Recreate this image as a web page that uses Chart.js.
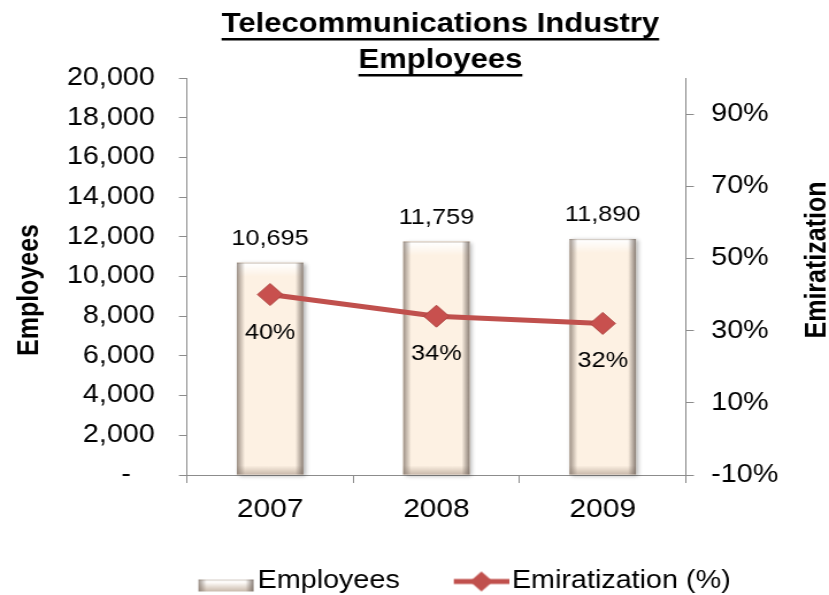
<!DOCTYPE html>
<html>
<head>
<meta charset="utf-8">
<title>Telecommunications Industry Employees</title>
<script src="https://cdn.jsdelivr.net/npm/chart.js"></script>
<style>
  html, body { margin: 0; padding: 0; background: #fff; overflow: hidden; }
  /* chart is drawn on a narrower canvas and stretched to the window width */
  #wrap { width: 721px; height: 595px; transform: scaleX(1.1498); transform-origin: 0 0; }
  #chart { display: block; }
</style>
</head>
<body>
<div id="wrap"><canvas id="chart" width="721" height="595"></canvas></div>
<script>
const years = ['2007', '2008', '2009'];
const employees = [10695, 11759, 11890];
const emiratization = [40, 34, 32];
const pctTicks = [-10, 10, 30, 50, 70, 90];
const titleLines = ['Telecommunications Industry', 'Employees'];

const FONT = "'Liberation Sans', Arial, sans-serif";
const AXIS = '#8c8c8c';
const RED = '#c0504d';
const CREAM = '#fdf1e3';

// shaded edges that give the bars their raised look
function bevelBar(ctx, l, t, r, b) {
  const w = r - l, h = b - t;
  let g = ctx.createLinearGradient(0, t, 0, t + 14);
  g.addColorStop(0, 'rgba(190,180,170,0.9)');
  g.addColorStop(0.12, 'rgba(255,255,255,0.95)');
  g.addColorStop(1, 'rgba(255,255,255,0)');
  ctx.fillStyle = g;
  ctx.fillRect(l, t, w, 14);

  g = ctx.createLinearGradient(0, b - 9, 0, b);
  g.addColorStop(0, 'rgba(150,130,115,0)');
  g.addColorStop(1, 'rgba(150,130,115,0.5)');
  ctx.fillStyle = g;
  ctx.fillRect(l, b - 9, w, 9);

  g = ctx.createLinearGradient(l, 0, l + 7, 0);
  g.addColorStop(0, 'rgba(125,112,102,0.75)');
  g.addColorStop(1, 'rgba(125,112,102,0)');
  ctx.fillStyle = g;
  ctx.fillRect(l, t, 7, h);

  g = ctx.createLinearGradient(r, 0, r - 7, 0);
  g.addColorStop(0, 'rgba(110,98,90,0.8)');
  g.addColorStop(1, 'rgba(110,98,90,0)');
  ctx.fillStyle = g;
  ctx.fillRect(r - 7, t, 7, h);
}

function makeIcon(draw) {
  const c = document.createElement('canvas');
  c.width = 95;
  c.height = 24;
  draw(c.getContext('2d'));
  return c;
}

// legend markers, drawn at the right end so they sit close to the text
const legendIcons = [
  makeIcon(ctx => {
    ctx.fillStyle = CREAM;
    ctx.fillRect(46, 10, 48, 12);
    bevelBar(ctx, 46, 10, 94, 22);
  }),
  makeIcon(ctx => {
    ctx.strokeStyle = RED;
    ctx.lineWidth = 5;
    ctx.beginPath();
    ctx.moveTo(47, 12);
    ctx.lineTo(95, 12);
    ctx.stroke();
    ctx.fillStyle = RED;
    ctx.beginPath();
    ctx.moveTo(71, 2); ctx.lineTo(81, 12); ctx.lineTo(71, 22); ctx.lineTo(61, 12);
    ctx.closePath();
    ctx.fill();
  })
];

const barShading = {
  id: 'barShading',
  beforeDatasetDraw(chart, args) {
    if (args.index !== 0) return;
    const ctx = chart.ctx;
    ctx.save();
    ctx.shadowColor = 'rgba(0,0,0,0.3)';
    ctx.shadowBlur = 4;
    ctx.shadowOffsetX = 2;
    ctx.shadowOffsetY = 1;
    ctx.fillStyle = CREAM;
    args.meta.data.forEach(el => {
      ctx.fillRect(el.x - el.width / 2, el.y, el.width, el.base - el.y);
    });
    ctx.restore();
  },
  afterDatasetDraw(chart, args) {
    if (args.index !== 0) return;
    const ctx = chart.ctx;
    ctx.save();
    args.meta.data.forEach(el => {
      bevelBar(ctx, el.x - el.width / 2, el.y, el.x + el.width / 2, el.base);
    });
    ctx.restore();
  }
};

const valueLabels = {
  id: 'valueLabels',
  afterDatasetsDraw(chart) {
    const ctx = chart.ctx;
    ctx.save();
    ctx.font = `22px ${FONT}`;
    ctx.fillStyle = '#000';
    ctx.textAlign = 'center';
    ctx.textBaseline = 'middle';
    chart.getDatasetMeta(0).data.forEach((el, i) => {
      ctx.fillText(employees[i].toLocaleString('en-US'), el.x, el.y - 24);
    });
    chart.getDatasetMeta(1).data.forEach((el, i) => {
      ctx.fillText(emiratization[i] + '%', el.x, el.y + 38);
    });
    ctx.restore();
  }
};

const titles = {
  id: 'titles',
  afterDraw(chart) {
    const ctx = chart.ctx;
    ctx.save();
    ctx.fillStyle = '#000';
    ctx.textAlign = 'center';
    ctx.font = `bold 27px ${FONT}`;
    ctx.textBaseline = 'alphabetic';
    [32, 68].forEach((y, i) => {
      const w = ctx.measureText(titleLines[i]).width;
      ctx.fillText(titleLines[i], 383, y);
      ctx.fillRect(383 - w / 2, y + 6, w, 2.5);
    });

    ctx.font = `bold 25px ${FONT}`;
    ctx.textBaseline = 'middle';
    [['Employees', 26, 290], ['Emiratization', 711, 260]].forEach(([txt, x, y]) => {
      ctx.save();
      ctx.translate(x, y);
      ctx.rotate(-Math.PI / 2);
      ctx.fillText(txt, 0, 0);
      ctx.restore();
    });
    ctx.restore();
  }
};

const axisGrid = { drawOnChartArea: false, color: AXIS, tickLength: 7, tickColor: AXIS };

new Chart(document.getElementById('chart'), {
  data: {
    labels: years,
    datasets: [
      {
        type: 'bar',
        label: 'Employees',
        data: employees,
        yAxisID: 'y',
        backgroundColor: CREAM,
        borderWidth: 0,
        barPercentage: 0.4,
        categoryPercentage: 1,
        order: 1
      },
      {
        type: 'line',
        label: 'Emiratization (%)',
        data: emiratization,
        yAxisID: 'y1',
        borderColor: RED,
        borderWidth: 5,
        pointStyle: 'rectRot',
        pointRadius: 11,
        pointBackgroundColor: '#c8504e',
        pointBorderColor: '#b04542',
        pointBorderWidth: 1,
        order: 0
      }
    ]
  },
  options: {
    responsive: false,
    devicePixelRatio: 1,
    animation: false,
    layout: { padding: { top: 78, left: 51, right: 0, bottom: -9 } },
    plugins: {
      title: { display: false },
      tooltip: { enabled: false },
      legend: {
        position: 'bottom',
        labels: {
          usePointStyle: true,
          pointStyleWidth: 75,
          padding: 10,
          color: '#000',
          font: { family: FONT, size: 25 },
          generateLabels(chart) {
            const items = Chart.defaults.plugins.legend.labels.generateLabels(chart);
            items.sort((a, b) => a.datasetIndex - b.datasetIndex);
            items.forEach(it => { it.pointStyle = legendIcons[it.datasetIndex]; });
            return items;
          }
        }
      }
    },
    scales: {
      x: {
        grid: { drawOnChartArea: false, color: AXIS, tickLength: 8, tickColor: AXIS, offset: true },
        border: { color: AXIS },
        ticks: { color: '#000', font: { family: FONT, size: 26 }, padding: 11 },
        afterFit(scale) { scale.height = 84; }
      },
      y: {
        position: 'left',
        min: 0,
        max: 20000,
        grid: axisGrid,
        border: { color: AXIS },
        ticks: {
          stepSize: 2000,
          color: '#000',
          font: { family: FONT, size: 25 },
          padding: 21,
          callback: v => v === 0 ? '-   ' : v.toLocaleString('en-US')
        },
        afterFit(scale) { scale.width = 111.6; }
      },
      y1: {
        position: 'right',
        min: -10,
        max: 100,
        grid: axisGrid,
        border: { color: AXIS },
        ticks: {
          color: '#000',
          font: { family: FONT, size: 25 },
          padding: 15,
          callback: v => v + '%'
        },
        afterBuildTicks(scale) { scale.ticks = pctTicks.map(v => ({ value: v })); },
        afterFit(scale) { scale.width = 124.5; }
      }
    }
  },
  plugins: [barShading, valueLabels, titles]
});
</script>
</body>
</html>
